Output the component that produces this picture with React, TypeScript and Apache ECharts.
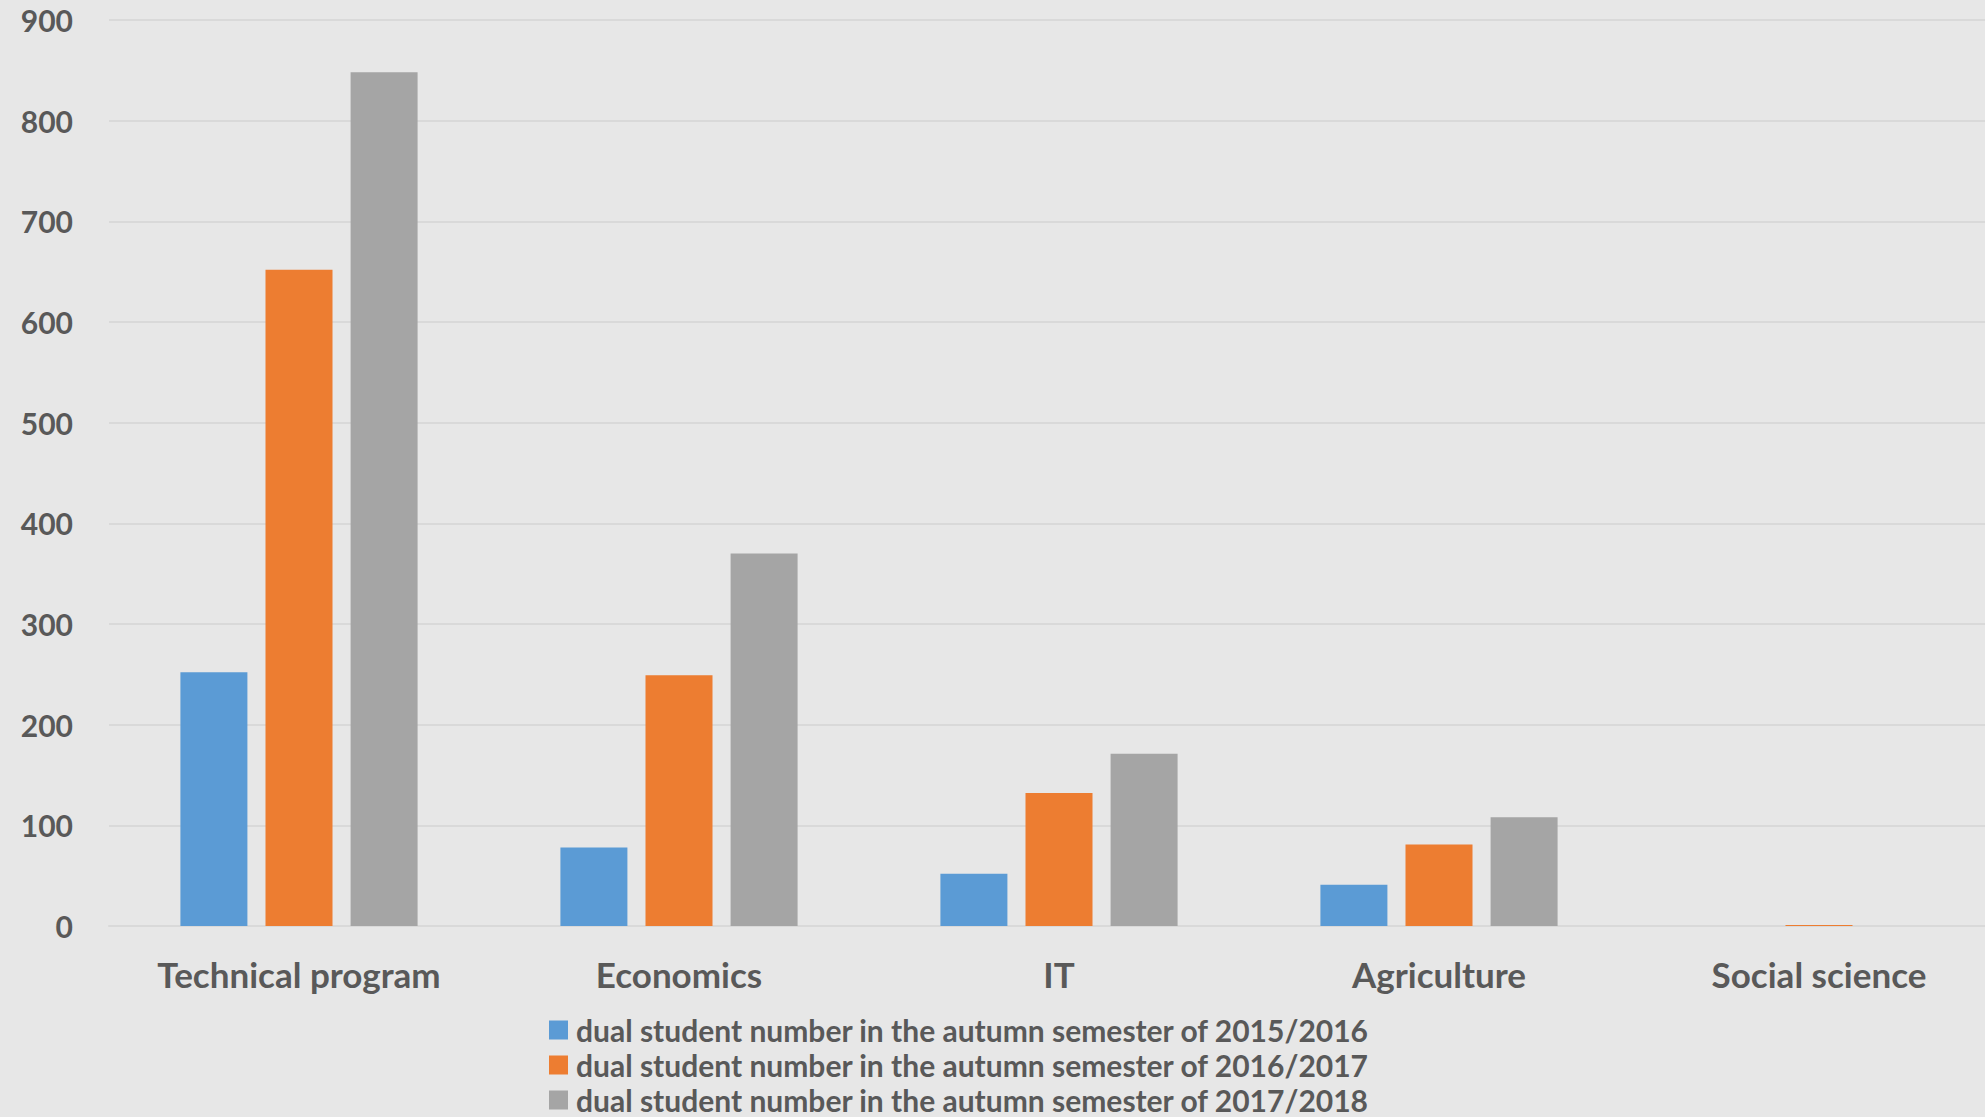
import React, { useEffect, useRef } from "react";
import * as echarts from "echarts";

const categories = ["Technical program", "Economics", "IT", "Agriculture", "Social science"];
const seriesNames = [
  "dual student number in the autumn semester of 2015/2016",
  "dual student number in the autumn semester of 2016/2017",
  "dual student number in the autumn semester of 2017/2018",
];
const values2015 = [252, 78, 52, 41, 0];
const values2016 = [652, 249, 132, 81, 1];
const values2017 = [848, 370, 171, 108, 0];
const colors = ["#5B9BD5", "#ED7D31", "#A5A5A5"];

export default function App() {
  const ref = useRef<HTMLDivElement>(null);
  useEffect(() => {
    document.body.style.margin = "0";
    const chart = echarts.init(ref.current!, null, { renderer: "svg" });
    const font = "Lato, 'Open Sans', sans-serif";
    const data = [values2015, values2016, values2017];
    chart.setOption({
      animation: false,
      backgroundColor: "#E7E7E7",
      textStyle: { fontFamily: font },
      grid: { left: 109, top: 20, width: 1900, height: 906 },
      legend: {
        orient: "vertical",
        left: 549,
        top: 1015,
        padding: 0,
        itemWidth: 19,
        itemHeight: 19,
        itemGap: 5,
        icon: "rect",
        textStyle: { fontSize: 30, fontWeight: "bold", color: "#595959", fontFamily: font, lineHeight: 28, padding: [0, 0, 0, 3] },
        data: seriesNames,
      },
      xAxis: {
        type: "category",
        data: categories,
        axisLine: { lineStyle: { color: "#D9D9D9", width: 2 } },
        axisTick: { show: false },
        axisLabel: { fontSize: 35, fontWeight: "bold", color: "#595959", margin: 30, fontFamily: font },
      },
      yAxis: {
        type: "value",
        min: 0,
        max: 900,
        interval: 100,
        axisLine: { show: false },
        axisTick: { show: false },
        splitLine: { lineStyle: { color: "#D9D9D9", width: 2 } },
        axisLabel: { fontSize: 30, fontWeight: "bold", color: "#595959", margin: 36, fontFamily: font },
      },
      series: seriesNames.map((name, i) => ({
        name,
        type: "bar",
        data: data[i],
        barWidth: 67,
        barGap: "27%",
        itemStyle: { color: colors[i] },
      })),
    });
    return () => chart.dispose();
  }, []);
  return (
    <div style={{ position: "absolute", left: 0, top: 0, width: 1985, height: 1117, overflow: "hidden", background: "#E7E7E7" }}>
      <div ref={ref} style={{ width: 2010, height: 1200 }} />
    </div>
  );
}
